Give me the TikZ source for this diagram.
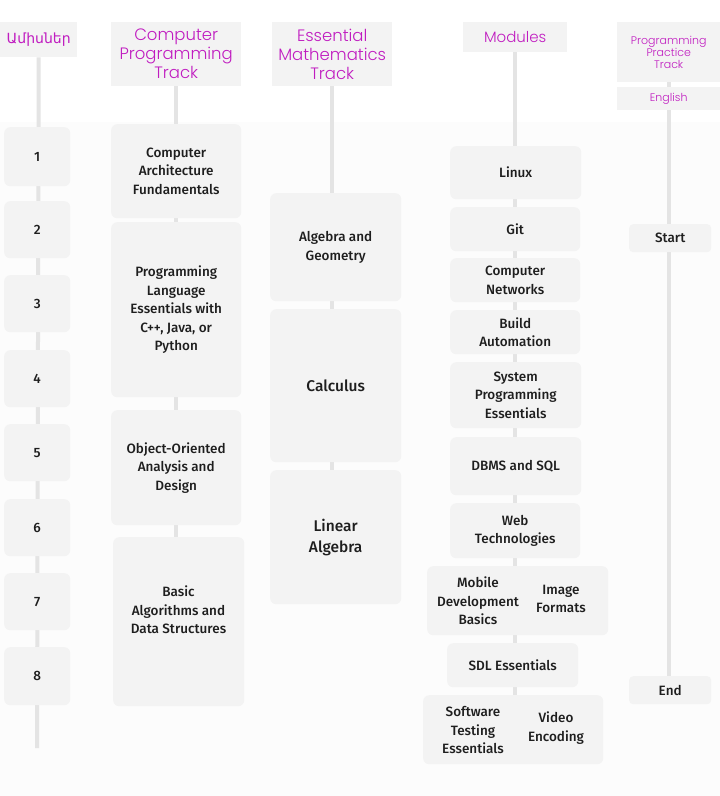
\documentclass[tikz,border=0pt]{standalone}
\usepackage{fontspec}
\setmainfont{Fira Sans}[UprightFont=* Medium]
\newfontfamily\headfont{Poppins}[UprightFont=* Light]
\newfontfamily\armfont{DejaVu Sans}
\definecolor{boxc}{HTML}{F3F3F3}
\definecolor{linec}{HTML}{E4E4E4}
\definecolor{headc}{HTML}{C01CC0}
\definecolor{txtc}{HTML}{1E1E1E}
\definecolor{bgc}{HTML}{FCFCFC}
\pgfdeclarelayer{bg}
\pgfsetlayers{bg,main}
\tikzset{
  box/.style={fill=boxc, rounded corners=6pt, anchor=north west, inner sep=0pt, align=center,
    text=txtc, font=\fontsize{13.5}{18.5}\selectfont},
  head/.style={fill=boxc, anchor=north west, inner sep=0pt, align=center,
    text=headc, font=\headfont\fontsize{16.5}{19}\selectfont},
  conn/.style={draw=linec, line width=4pt},
  lbl/.style={align=center, text=txtc, font=\fontsize{13.5}{18.5}\selectfont, inner sep=0pt}
}
\begin{document}
\begin{tikzpicture}[x=1pt,y=-1pt]
\useasboundingbox (0,0) rectangle (720,796);
\begin{pgfonlayer}{bg}
\fill[white] (0,0) rectangle (720,796);
\fill[bgc] (0,122) rectangle (720,796);
\end{pgfonlayer}
% headers
\node[head, minimum width=77pt, minimum height=35pt, font=\armfont\fontsize{14}{15}\selectfont] (hm) at (0,22) {Ամիսներ};
\node[head, minimum width=130pt, minimum height=64pt] (hc) at (111,22) {Computer\\Programming\\Track};
\node[head, minimum width=120pt, minimum height=64pt] (he) at (272,22) {Essential\\Mathematics\\Track};
\node[head, minimum width=104pt, minimum height=30pt, font=\headfont\fontsize{15}{17}\selectfont] (hmod) at (463,22) {Modules};
\node[head, minimum width=103pt, minimum height=60pt, font=\headfont\fontsize{11}{12}\selectfont] (hp) at (617,22) {Programming\\Practice\\Track};
\node[head, minimum width=103pt, minimum height=23pt, font=\headfont\fontsize{11}{12}\selectfont] (heng) at (617,87) {English};
% months
\node[box, minimum width=66pt, minimum height=59pt] (m1) at (4,127) {1};
\node[box, minimum width=66pt, minimum height=57pt] (m2) at (4,201) {2};
\node[box, minimum width=66pt, minimum height=57pt] (m3) at (4,275) {3};
\node[box, minimum width=66pt, minimum height=57pt] (m4) at (4,350) {4};
\node[box, minimum width=66pt, minimum height=57pt] (m5) at (4,424) {5};
\node[box, minimum width=66pt, minimum height=57pt] (m6) at (4,499) {6};
\node[box, minimum width=66pt, minimum height=57pt] (m7) at (4,573) {7};
\node[box, minimum width=66pt, minimum height=58pt] (m8) at (4,647) {8};
\coordinate (mend) at (37,748);
% computer programming track
\node[box, minimum width=130pt, minimum height=94pt] (c1) at (111,124) {Computer\\Architecture\\Fundamentals};
\node[box, minimum width=130pt, minimum height=175pt] (c2) at (111,222) {Programming\\Language\\Essentials with\\C++, Java, or\\Python};
\node[box, minimum width=130pt, minimum height=115pt] (c3) at (111,410) {Object-Oriented\\Analysis and\\Design};
\node[box, minimum width=131pt, minimum height=169pt] (c4) at (113,537) {};
\node[lbl] (c4t) at (178.5,610) {Basic\\Algorithms and\\Data Structures};
% math track
\node[box, minimum width=131pt, minimum height=108pt] (e1) at (270,193) {Algebra and\\Geometry};
\node[box, minimum width=131pt, minimum height=153pt, font=\fontsize{15.5}{21}\selectfont] (e2) at (270,309) {Calculus};
\node[box, minimum width=131pt, minimum height=134pt, font=\fontsize{15.5}{21}\selectfont] (e3) at (270,470) {Linear\\Algebra};
% modules
\node[box, minimum width=131pt, minimum height=53pt] (d1) at (450,146) {Linux};
\node[box, minimum width=130pt, minimum height=44pt] (d2) at (450,207) {Git};
\node[box, minimum width=130pt, minimum height=44pt] (d3) at (450,258) {Computer\\Networks};
\node[box, minimum width=130pt, minimum height=44pt] (d4) at (450,310) {Build\\Automation};
\node[box, minimum width=131pt, minimum height=66pt] (d5) at (450,362) {System\\Programming\\Essentials};
\node[box, minimum width=131pt, minimum height=58pt] (d6) at (450,437) {DBMS and SQL};
\node[box, minimum width=130pt, minimum height=55pt] (d7) at (450,503) {Web\\Technologies};
\node[box, minimum width=181pt, minimum height=69pt] (d8) at (427,566) {};
\node[lbl] (d8a) at (478,601) {Mobile\\Development\\Basics};
\node[lbl] (d8b) at (561,599) {Image\\Formats};
\node[box, minimum width=131pt, minimum height=44pt] (d9) at (447,643) {SDL Essentials};
\node[box, minimum width=180pt, minimum height=69pt] (d10) at (423,695) {};
\node[lbl] (d10a) at (473,730) {Software\\Testing\\Essentials};
\node[lbl] (d10b) at (556,728) {Video\\Encoding};
% practice
\node[box, minimum width=82pt, minimum height=28pt, rounded corners=4pt] (ps) at (629,224) {Start};
\node[box, minimum width=82pt, minimum height=28pt, rounded corners=4pt] (pe) at (629,676) {End};
% connectors
\begin{pgfonlayer}{bg}
\draw[conn] (hm.south) -- (mend);
\draw[conn] (hc.south) -- (c2.north -| hc.south) (c2.south -| hc.south) -- (c4.north -| hc.south);
\draw[conn] (he.south) -- (e3.north -| he.south);
\draw[conn] (hmod.south) -- (d10.north -| hmod.south);
\draw[conn] (hp.south) -- (heng.north);
\draw[conn] (heng.south) -- (pe.north -| heng.south);
\end{pgfonlayer}
\end{tikzpicture}
\end{document}
